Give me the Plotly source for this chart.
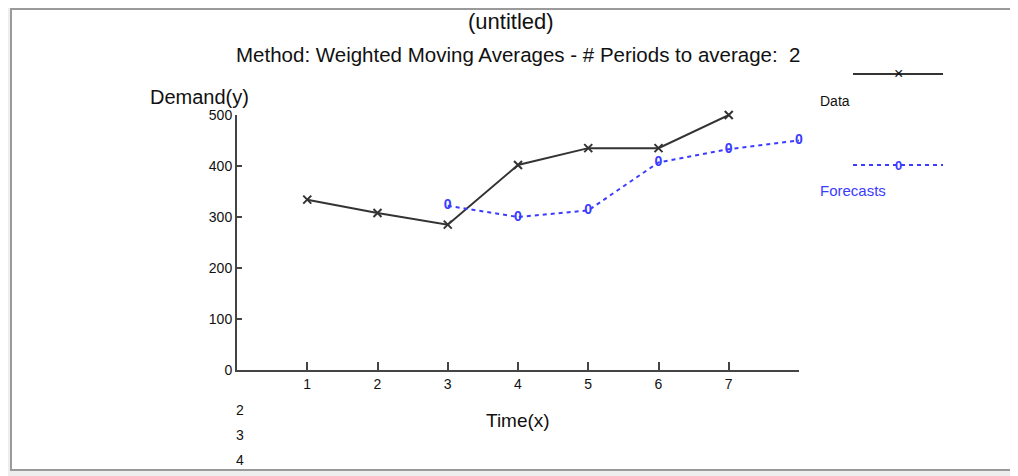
import plotly.graph_objects as go

periods = [1, 2, 3, 4, 5, 6, 7]
demand = [334, 308, 285, 402, 435, 435, 500]
forecast_periods = [3, 4, 5, 6, 7, 8]
forecast = [322, 300, 313, 407, 433, 450]
x_ticks = [1, 2, 3, 4, 5, 6, 7]
y_ticks = [0, 100, 200, 300, 400, 500]
stray_labels = ["2", "3", "4"]

FONT = "Liberation Sans"
BLUE = "#3b3bff"
DARK = "#333333"

OFF = 8  # page body margin
W, H = 1018 - OFF, 476 - OFF
# plot area in reference pixel coordinates
X0, X1, Y0, Y1 = 237, 799, 115, 370
L, R, T, B = X0 - OFF, W - (X1 - OFF), Y0 - OFF, H - (Y1 - OFF)
PW, PH = X1 - X0, Y1 - Y0


def px(x):
    return (x - X0) / PW


def py(y):
    return (Y1 - y) / PH


fig = go.Figure()
fig.add_trace(go.Scatter(
    x=periods, y=demand, mode="lines+markers", name="Data",
    line=dict(color=DARK, width=2),
    marker=dict(symbol="x-thin-open", size=8, line=dict(color="#111", width=2)),
    cliponaxis=False, showlegend=False))
fig.add_trace(go.Scatter(
    x=forecast_periods, y=forecast, mode="lines+text", name="Forecasts",
    text=["<b>0</b>"] * len(forecast), textposition="middle center",
    textfont=dict(family=FONT, size=14, color=BLUE),
    line=dict(color=BLUE, width=2, dash="4px,4px"),
    cliponaxis=False, showlegend=False))

shapes = [
    dict(type="rect", xref="paper", yref="paper", x0=px(11), x1=px(1012), y0=py(470), y1=py(9),
         fillcolor="white", line=dict(color="#9a9a9a", width=2), layer="below"),
    dict(type="line", xref="paper", yref="paper", x0=px(853), x1=px(943), y0=py(74), y1=py(74),
         line=dict(color=DARK, width=2)),
    dict(type="line", xref="paper", yref="paper", x0=px(853), x1=px(943), y0=py(165), y1=py(165),
         line=dict(color=BLUE, width=2, dash="4px,4px")),
]

annotations = [
    dict(text="(untitled)", x=px(511), y=py(21), font=dict(size=22, color="#111")),
    dict(text="Method: Weighted Moving Averages - # Periods to average:  2", x=px(518), y=py(55),
         font=dict(size=20.5, color="#111")),
    dict(text="Demand(y)", x=px(251), y=py(97), xanchor="right", font=dict(size=20, color="#111")),
    dict(text="Time(x)", x=px(518), y=py(420), font=dict(size=19, color="#111")),
    dict(text="Data", x=px(818), y=py(101), xanchor="left", font=dict(size=14, color="#111")),
    dict(text="Forecasts", x=px(818), y=py(190), xanchor="left", font=dict(size=15, color=BLUE)),
    dict(text="×", x=px(898), y=py(74), font=dict(size=16, color="#111")),
    dict(text="<b>0</b>", x=px(898), y=py(165), font=dict(size=13, color=BLUE)),
]
for i, s in enumerate(stray_labels):
    annotations.append(dict(text=s, x=px(240), y=py(410 + 25 * i), font=dict(size=14, color="#111")))
for a in annotations:
    a.update(xref="paper", yref="paper", showarrow=False)
    a.setdefault("xanchor", "center")
    a["yanchor"] = "middle"
    a["font"]["family"] = FONT

fig.update_layout(
    width=W, height=H,
    margin=dict(l=L, r=R, t=T, b=B, pad=0),
    paper_bgcolor="#eeeeee", plot_bgcolor="rgba(0,0,0,0)",
    font=dict(family=FONT, size=14, color="#111"),
    shapes=shapes, annotations=annotations,
    xaxis=dict(range=[0, 8], tickvals=x_ticks, ticktext=[str(v) for v in x_ticks],
               tickfont=dict(family=FONT, size=14, color="#111"),
               showgrid=False, zeroline=False, showline=True, linecolor="#444", linewidth=2,
               ticks="inside", ticklen=8, tickcolor="#444", tickwidth=1.5),
    yaxis=dict(range=[0, 500], tickvals=y_ticks, showgrid=False, zeroline=False,
               tickfont=dict(family=FONT, size=14, color="#111"),
               showline=True, linecolor="#444", linewidth=2,
               ticks="inside", ticklen=5, tickcolor="#444", tickwidth=1.5),
)

fig.write_html("out.html")
